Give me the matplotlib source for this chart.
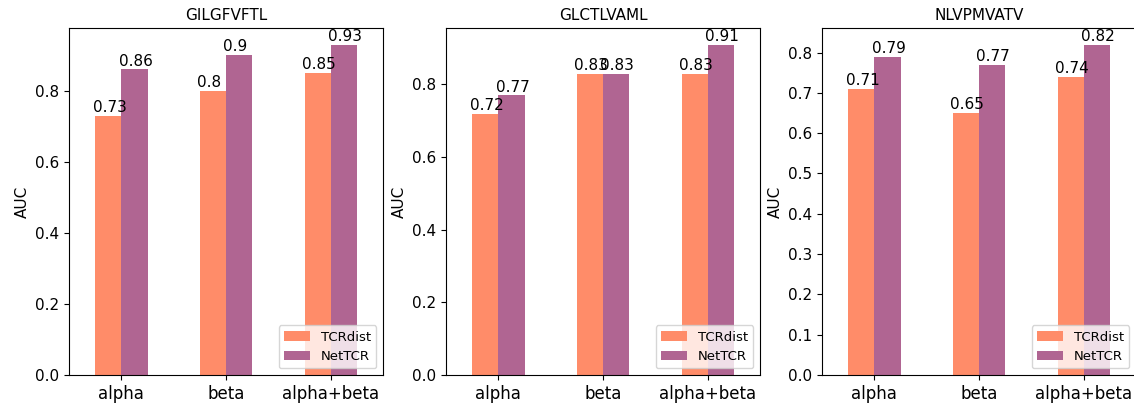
import matplotlib
matplotlib.use("Agg")
import matplotlib.pyplot as plt
import numpy as np

categories = ["alpha", "beta", "alpha+beta"]
titles = ["GILGFVFTL", "GLCTLVAML", "NLVPMVATV"]
series_names = ["TCRdist", "NetTCR"]
tcrdist = [[0.73, 0.80, 0.85], [0.72, 0.83, 0.83], [0.71, 0.65, 0.74]]
nettcr = [[0.86, 0.90, 0.93], [0.77, 0.83, 0.91], [0.79, 0.77, 0.82]]
colors = ["#FF8C69", "#B06592"]

W, H = 1134, 403
fig = plt.figure(figsize=(W / 100, H / 100), dpi=100)

lefts = [69, 446, 822]
aw = 314
top, bottom = 28, 375

x = np.arange(len(categories))
bw = 0.25
for i in range(3):
    ax = fig.add_axes([lefts[i] / W, 1 - bottom / H, aw / W, (bottom - top) / H])
    vals = [tcrdist[i], nettcr[i]]
    for j, (name, v) in enumerate(zip(series_names, vals)):
        xs = x + (j - 0.5) * bw
        bars = ax.bar(xs, v, width=bw, color=colors[j], label=name)
        for b, val in zip(bars, v):
            ax.text(b.get_x() - 0.025, b.get_height() + 0.002, f"{val:g}",
                    ha="left", va="bottom", fontsize=11)
    ax.set_xlim(-0.5, 2.5)
    ax.set_ylim(0, max(max(vals[0]), max(vals[1])) * 1.05)
    ax.set_xticks(x)
    ax.set_xticklabels(categories, fontsize=12)
    ax.tick_params(axis="y", labelsize=11)
    ax.set_ylabel("AUC", fontsize=11)
    ax.set_title(titles[i], fontsize=11)
    ax.legend(loc="lower right", fontsize=9.5)

fig.savefig("out.png", dpi=100)
